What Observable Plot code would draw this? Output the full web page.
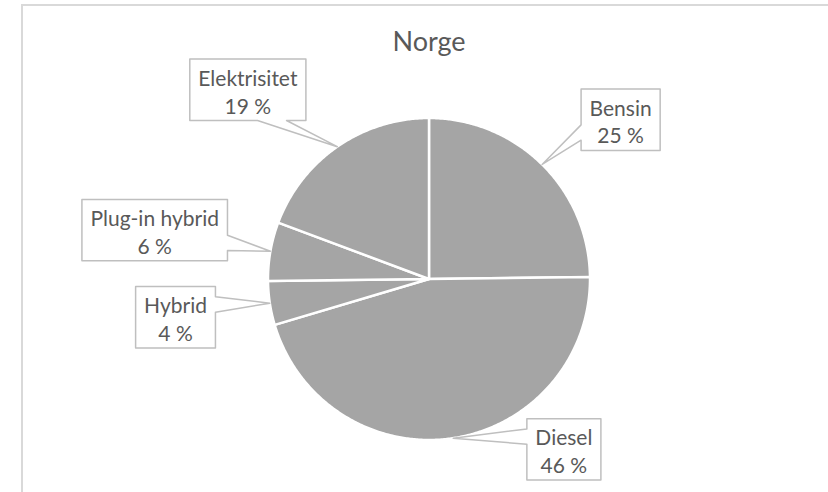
<!DOCTYPE html>
<html><head><meta charset="utf-8">
<script src="https://cdn.jsdelivr.net/npm/d3@7"></script>
<script src="https://cdn.jsdelivr.net/npm/@observablehq/plot@0.6"></script>
<style>
body{margin:0;background:#fff;}
#wrap{position:relative;width:828px;height:492px;overflow:hidden;background:#fff;}
#frame{position:absolute;left:21px;top:4px;width:900px;height:600px;border:2px solid #d9d9d9;box-sizing:border-box;}
#chart{position:absolute;left:0;top:0;}
</style></head><body>
<div id="wrap"><div id="frame"></div><div id="chart"></div></div>
<script>
// ---- data ----
const title = "Norge";
const categories = ["Bensin", "Diesel", "Hybrid", "Plug-in hybrid", "Elektrisitet"];
const values = [24.8, 45.6, 4.4, 5.9, 19.3];

// ---- layout (pixels) ----
const W = 828, H = 492;
const center = [428.5, 278.5], radius = 161;
const fontFamily = "Lato, 'Open Sans', sans-serif";
const labelSize = 21, titleSize = 27, lineHeightPx = 27.7, pad = 8.5;
const boxOffsets = [[78.5, -44.7], [110.7, 11.2], [-94.3, 14.1], [-115.7, -21.2], [-89.4, -56.9]];

const total = d3.sum(values);
const ctx = document.createElement("canvas").getContext("2d");
ctx.font = `${labelSize}px ${fontFamily}`;

let acc = 0;
const slices = categories.map((name, i) => {
  const a0 = acc / total * 2 * Math.PI;
  acc += values[i];
  const a1 = acc / total * 2 * Math.PI;
  return {name, value: values[i], a0, a1, pct: Math.round(values[i] / total * 100) + " %"};
});

const pt = (a, r) => [center[0] + r * Math.sin(a), center[1] - r * Math.cos(a)];

// slice polygons
const slicePts = [];
for (const s of slices) {
  slicePts.push({name: s.name, x: center[0], y: center[1]});
  const n = Math.max(2, Math.ceil((s.a1 - s.a0) / (Math.PI / 360)));
  for (let k = 0; k <= n; k++) {
    const [x, y] = pt(s.a0 + (s.a1 - s.a0) * k / n, radius);
    slicePts.push({name: s.name, x, y});
  }
}

// callouts (wedge rectangle callout)
const calloutPts = [];
const labels = [];
slices.forEach((s, i) => {
  const [px, py] = pt((s.a0 + s.a1) / 2, radius);
  const tw = Math.max(ctx.measureText(s.name).width, ctx.measureText(s.pct).width);
  const w = tw + 2 * pad, h = lineHeightPx * 2 + 6;
  const cx = px + boxOffsets[i][0], cy = py + boxOffsets[i][1];
  const l = cx - w / 2, t = cy - h / 2, r = l + w, b = t + h;
  const dx = px - cx, dy = py - cy;
  const dz = Math.abs(dy) - Math.abs(dx * h / w);
  let poly;
  if (dz > 0) {
    const x1 = l + w * (dx > 0 ? 7 : 2) / 12, x2 = l + w * (dx > 0 ? 10 : 5) / 12;
    if (dy < 0) poly = [[l, t], [x1, t], [px, py], [x2, t], [r, t], [r, b], [l, b]];
    else poly = [[l, t], [r, t], [r, b], [x2, b], [px, py], [x1, b], [l, b]];
  } else {
    const y1 = t + h * (dy > 0 ? 7 : 2) / 12, y2 = t + h * (dy > 0 ? 10 : 5) / 12;
    if (dx < 0) poly = [[l, t], [r, t], [r, b], [l, b], [l, y2], [px, py], [l, y1]];
    else poly = [[l, t], [r, t], [r, y1], [px, py], [r, y2], [r, b], [l, b]];
  }
  poly.forEach(([x, y]) => calloutPts.push({name: s.name, x, y}));
  labels.push({x: cx, y: cy + 1, text: s.name + "\n" + s.pct});
});

const titleData = [{x: center[0], y: 42, text: title}];

const chart = Plot.plot({
  width: W, height: H,
  margin: 0,
  style: {background: "transparent", fontFamily},
  x: {type: "identity", axis: null},
  y: {type: "identity", axis: null},
  marks: [
    Plot.line(slicePts, {x: "x", y: "y", z: "name", fill: "#a5a5a5", stroke: "#ffffff", strokeWidth: 2.5, strokeLinejoin: "round", curve: "linear-closed"}),
    Plot.line(calloutPts, {x: "x", y: "y", z: "name", fill: "#ffffff", stroke: "#bfbfbf", strokeWidth: 1.5, curve: "linear-closed"}),
    Plot.text(labels, {x: "x", y: "y", text: "text", fill: "#595959", fontSize: labelSize, lineHeight: lineHeightPx / labelSize, fontFamily}),
    Plot.text(titleData, {x: "x", y: "y", text: "text", fill: "#595959", fontSize: titleSize, fontFamily})
  ]
});
document.getElementById("chart").appendChild(chart);
</script>
</body></html>
